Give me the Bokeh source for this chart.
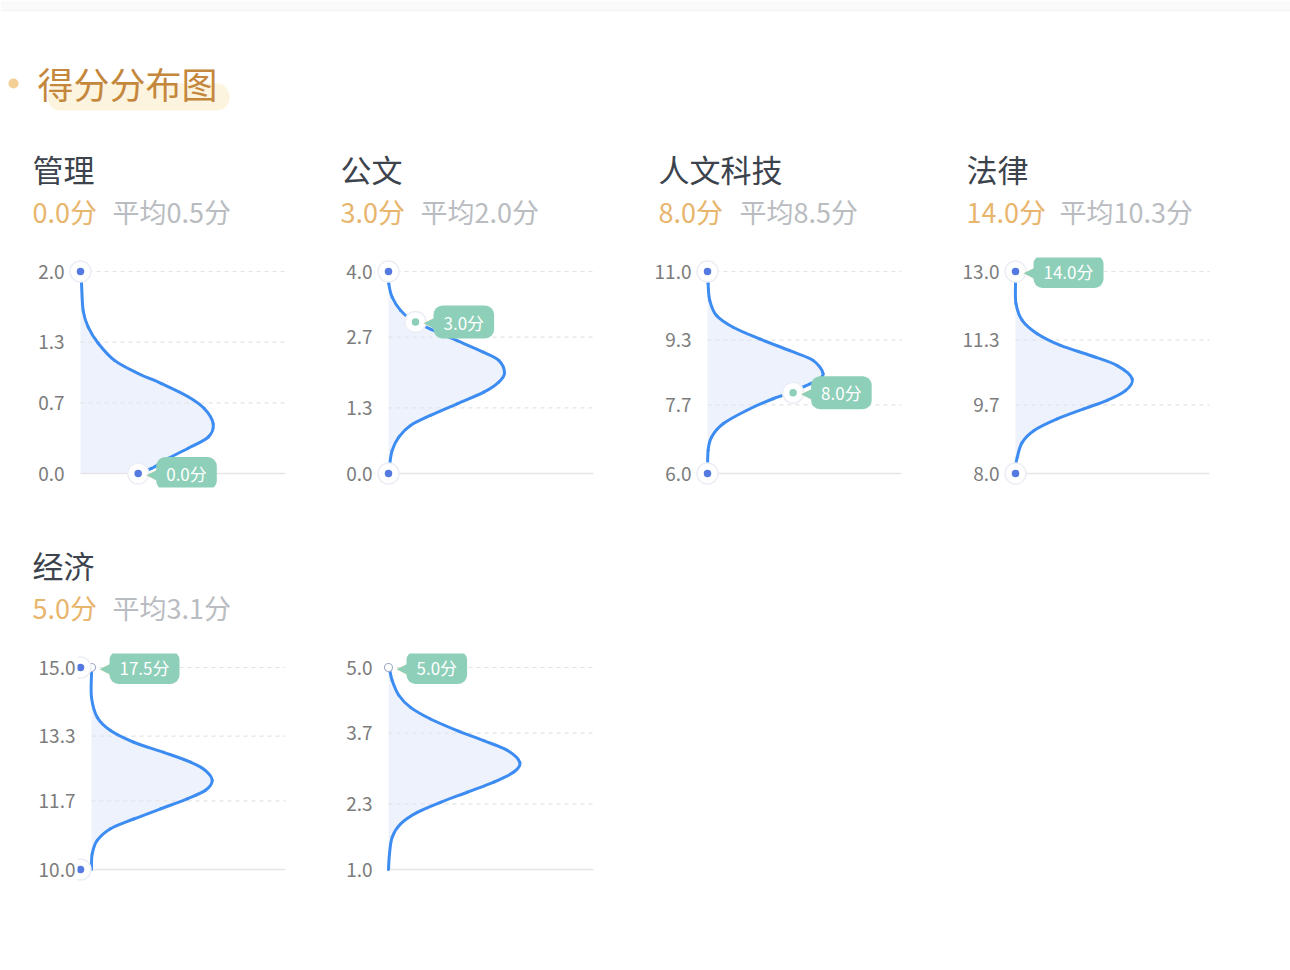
from bokeh.plotting import figure
from bokeh.layouts import column, row
from bokeh.models import Range1d, FixedTicker, PrintfTickFormatter, Label
from bokeh.core.properties import value
from bokeh.embed import file_html
from bokeh.resources import INLINE

FONT = "Noto Sans CJK SC"

# ---------------- data ----------------
page_title = "得分分布图"

subjects = ["管理", "公文", "人文科技", "法律", "经济"]
header_scores = [0.0, 3.0, 8.0, 14.0, 5.0]
header_avgs = [0.5, 2.0, 8.5, 10.3, 3.1]

# six small charts (the sixth has no header of its own)
axis_min = [0.0, 0.0, 6.0, 8.0, 10.0, 1.0]
axis_max = [2.0, 4.0, 11.0, 13.0, 15.0, 5.0]
tick_values = [
    [0.0, 0.7, 1.3, 2.0],
    [0.0, 1.3, 2.7, 4.0],
    [6.0, 7.7, 9.3, 11.0],
    [8.0, 9.7, 11.3, 13.0],
    [10.0, 11.7, 13.3, 15.0],
    [1.0, 2.3, 3.7, 5.0],
]

# distribution curves (density, score), top to bottom
density_1 = [0, 1, 2.7, 7.7, 17.7, 34, 57.7, 81, 107.7, 124, 132.7, 127.7, 107.7, 87.7, 71, 57.7]
score_1 = [2.0, 1.88, 1.61, 1.45, 1.29, 1.12, 0.99, 0.89, 0.76, 0.64, 0.49, 0.36, 0.25, 0.15, 0.05, 0.0]

density_2 = [0, 0.3, 3.7, 12, 22, 42, 68.7, 95.3, 110.3, 116, 110.3, 95.3, 68.7, 42, 22, 10.3, 3.7, 1.3, 0]
score_2 = [4.0, 3.76, 3.49, 3.23, 3.06, 2.86, 2.63, 2.40, 2.24, 1.99, 1.81, 1.61, 1.38, 1.15, 0.95, 0.72, 0.46, 0.19, 0.0]

density_3 = [0, 0.6, 2.3, 9, 25.6, 52.3, 82.3, 105.6, 115.6, 109, 95.6, 85.6, 65.6, 39, 15.6, 4, 0.6, 0]
score_3 = [11.0, 10.70, 10.28, 9.91, 9.62, 9.33, 9.04, 8.80, 8.47, 8.30, 8.14, 8.01, 7.85, 7.56, 7.23, 6.90, 6.57, 6.0]

density_4 = [0, 0, 0.5, 6.7, 21.7, 45, 75, 101.7, 116.7, 110, 91.7, 68.3, 41.7, 18.3, 6.7, 1.7, 0, 0]
score_4 = [13.0, 12.70, 12.20, 11.79, 11.46, 11.17, 10.92, 10.67, 10.34, 10.05, 9.81, 9.60, 9.35, 9.06, 8.77, 8.40, 8.16, 8.0]

density_5 = [0, 0, 0, 5.7, 19, 42.3, 72.3, 99, 114, 120.7, 114, 95.7, 69, 42.3, 19, 5.7, 0.7, 0, 0]
score_5 = [15.0, 14.84, 14.26, 13.77, 13.44, 13.15, 12.90, 12.66, 12.45, 12.20, 11.96, 11.75, 11.50, 11.25, 11.01, 10.72, 10.39, 10.05, 10.0]

density_6 = [0.3, 1, 3.7, 10.3, 22, 42, 68.7, 95.3, 118.7, 131.3, 125.3, 105.3, 78.7, 52, 28.7, 12, 3.7, 1, 0]
score_6 = [5.0, 4.97, 4.74, 4.45, 4.21, 3.98, 3.75, 3.55, 3.36, 3.12, 2.93, 2.73, 2.53, 2.33, 2.13, 1.90, 1.64, 1.31, 1.0]

densities = [density_1, density_2, density_3, density_4, density_5, density_6]
curve_scores = [score_1, score_2, score_3, score_4, score_5, score_6]

# the candidate's score per chart and where its marker sits on the curve
tip_scores = [0.0, 3.0, 8.0, 14.0, 17.5, 5.0]
tip_density = [57.7, 27, 85.6, 0, 0, 0]
marker_kind = ["end", "curve", "curve", "clip", "clip", "clip"]
show_end_dots = [True, True, True, True, True, False]

# ---------------- style ----------------
PAGE_W = 1290
BLOCK_W = 308
HEADER_H = 110
CHART_H = 286
baselines = [80, 80, 91, 91, 91, 80]
title_x = [32, 340, 658, 966, 32]      # page pixels
avg_x = [112, 420, 739, 1059, 112]
end_dot_dx = [0, 0, 0, 0, -11, 0]

BLUE_LINE = "#3d8cf2"
FILL = "#edf2fc"
DOT_BLUE = "#5479e0"
MINT = "#8dcfb8"
GRID = "#e2e3e7"


def smooth_segments(xs, ys):
    """Catmull-Rom control points so the line is drawn smoothly through the read points."""
    n = len(xs)
    P = list(zip(xs, ys))
    segs = dict(x0=[], y0=[], x1=[], y1=[], cx0=[], cy0=[], cx1=[], cy1=[])
    for k in range(n - 1):
        pm = P[max(k - 1, 0)]
        p0 = P[k]
        p1 = P[k + 1]
        p2 = P[min(k + 2, n - 1)]
        segs["x0"].append(p0[0]); segs["y0"].append(p0[1])
        segs["x1"].append(p1[0]); segs["y1"].append(p1[1])
        segs["cx0"].append(p0[0] + (p1[0] - pm[0]) / 6); segs["cy0"].append(p0[1] + (p1[1] - pm[1]) / 6)
        segs["cx1"].append(p1[0] - (p2[0] - p0[0]) / 6); segs["cy1"].append(p1[1] - (p2[1] - p0[1]) / 6)
    return segs


def blank_fig(w, h):
    p = figure(width=w, height=h, x_range=Range1d(0, w), y_range=Range1d(h, 0),
               x_axis_type=None, y_axis_type=None, min_border=0,
               output_backend="svg", toolbar_location=None)
    p.outline_line_color = None
    p.grid.visible = False
    return p


def top_fig():
    p = blank_fig(PAGE_W, 130)
    p.quad(left=[0], right=[PAGE_W], top=[0], bottom=[10], fill_color="#fafafa", line_color=None)
    p.segment(x0=[0], x1=[PAGE_W], y0=[10], y1=[10], line_color="#f3f3f3", line_width=1)
    p.scatter(x=[13], y=[83], size=10, fill_color="#f2cf94", line_color=None)
    p.quad(left=[47], right=[229], top=[83], bottom=[110], fill_color="#fcf4df",
           line_color=None, border_radius=13)
    p.text(x=[37], y=[82], text=[page_title], text_font=value(FONT), text_font_size="36px",
           text_color="#c4873c", text_baseline="middle", text_align="left")
    return p


def header_fig(idx):
    p = blank_fig(PAGE_W, HEADER_H)
    for i in idx:
        p.text(x=[title_x[i]], y=[38], text=[subjects[i]], text_font=value(FONT),
               text_font_size="31px", text_color="#3c434d", text_baseline="middle")
        p.text(x=[title_x[i]], y=[81], text=[f"{header_scores[i]:.1f}分"], text_font=value(FONT),
               text_font_size="27px", text_color="#e8b56d", text_baseline="middle")
        p.text(x=[avg_x[i]], y=[81], text=[f"平均{header_avgs[i]:.1f}分"], text_font=value(FONT),
               text_font_size="27px", text_color="#b9bcc1", text_baseline="middle")
    return p


def chart_fig(i):
    b = baselines[i]
    lo, hi = axis_min[i], axis_max[i]
    pad = 14 * (hi - lo) / 202
    grid_end = 285 - b
    p = figure(width=BLOCK_W, height=CHART_H, x_range=Range1d(-14, 300 - b),
               y_range=Range1d(lo - pad, hi + pad), x_axis_type=None,
               min_border_left=b - 14, min_border_right=8, min_border_top=17,
               min_border_bottom=39, output_backend="svg", toolbar_location=None)
    p.outline_line_color = None
    p.ygrid.visible = False
    ax = p.yaxis[0]
    ax.ticker = FixedTicker(ticks=tick_values[i])
    ax.formatter = PrintfTickFormatter(format="%.1f")
    ax.axis_line_color = None
    ax.major_tick_line_color = None
    ax.minor_tick_line_color = None
    ax.major_tick_out = 0
    ax.major_tick_in = 0
    ax.minor_tick_out = 0
    ax.minor_tick_in = 0
    ax.major_label_standoff = 2
    ax.major_label_text_font = FONT
    ax.major_label_text_font_size = "19px"
    ax.major_label_text_color = "#7c7c7c"

    d, s = densities[i], curve_scores[i]
    p.harea(x1=0, x2=d, y=s, fill_color=FILL)
    tv = tick_values[i]
    p.segment(x0=[0] * (len(tv) - 1), x1=[grid_end] * (len(tv) - 1), y0=tv[1:], y1=tv[1:],
              line_color=GRID, line_width=1.2, line_dash="4 4")
    p.segment(x0=[0], x1=[grid_end], y0=[tv[0]], y1=[tv[0]], line_color="#e6e6e8", line_width=1.5)
    p.bezier(line_color=BLUE_LINE, line_width=3, line_cap="round", **smooth_segments(d, s))

    ts = min(max(tip_scores[i], lo), hi)
    tx = tip_density[i]
    kind = marker_kind[i]
    if kind == "clip":
        p.scatter(x=[tx], y=[ts], size=8, fill_color="white", line_color="#a3adc8", line_width=1.2)
    if show_end_dots[i]:
        ex = [d[0] + end_dot_dx[i], d[-1] + end_dot_dx[i]]
        ey = [s[0], s[-1]]
        p.scatter(x=ex, y=ey, size=21, fill_color="white", line_color="#eceef5", line_width=1.5)
        p.scatter(x=ex, y=ey, size=7.5, fill_color=DOT_BLUE, line_color=None)
    if kind == "curve":
        p.scatter(x=[tx], y=[ts], size=21, fill_color="white", line_color="#eceef5", line_width=1.5)
        p.scatter(x=[tx], y=[ts], size=7.5, fill_color=MINT, line_color=None)

    p.add_layout(Label(x=tx, y=ts, x_offset=8, text="◀", text_font="DejaVu Sans",
                       text_font_size="14px", text_color=MINT, text_baseline="middle",
                       text_align="left"))
    p.add_layout(Label(x=tx, y=ts, x_offset=18, text=f"{tip_scores[i]:.1f}分", text_font=FONT,
                       text_font_size="17px", text_color="white", text_baseline="middle",
                       text_align="left", background_fill_color=MINT, border_radius=9,
                       padding=(10, 4)))
    return p


layout = column(
    top_fig(),
    header_fig([0, 1, 2, 3]),
    row(*[chart_fig(i) for i in range(4)]),
    header_fig([4]),
    row(chart_fig(4), chart_fig(5)),
)

open("out.html", "w").write(file_html(layout, INLINE))
